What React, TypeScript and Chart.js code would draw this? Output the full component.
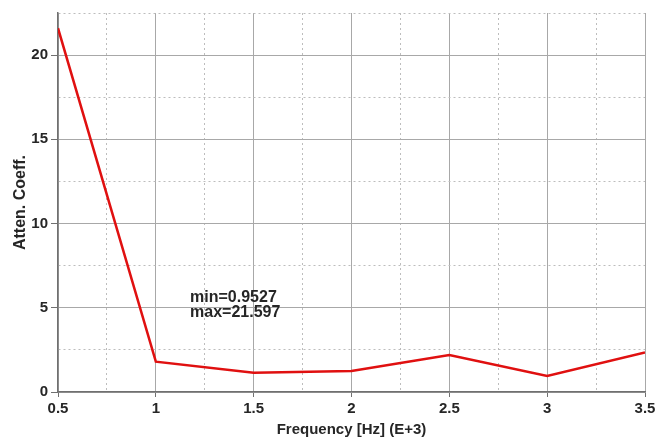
import React, { useEffect, useRef } from "react";
import { Chart, registerables } from "chart.js";

Chart.register(...registerables);

const frequencies = [0.5, 1, 1.5, 2, 2.5, 3, 3.5];
const attenCoeff = [21.597, 1.8, 1.15, 1.25, 2.2, 0.9527, 2.35];
const annotationLines = ["min=0.9527", "max=21.597"];
const xTickStep = 0.25;
const yTickStep = 2.5;

const FONT = "'Liberation Sans', Arial, sans-serif";

const annotationPlugin = {
  id: "minmaxText",
  afterDatasetsDraw(chart: any) {
    const { ctx, scales } = chart;
    const x = scales.x.getPixelForValue(1.175);
    const y = scales.y.getPixelForValue(5.6);
    ctx.save();
    ctx.font = `bold 16px ${FONT}`;
    ctx.fillStyle = "#262626";
    ctx.textAlign = "left";
    ctx.textBaseline = "middle";
    annotationLines.forEach((t, i) => ctx.fillText(t, x, y + i * 14.5));
    ctx.restore();
  },
};

const isMajor = (v: number, step: number) =>
  Math.abs(v / step - Math.round(v / step)) < 1e-6;

export default function App() {
  const ref = useRef<HTMLCanvasElement>(null);
  useEffect(() => {
    if (!ref.current) return;
    const chart = new Chart(ref.current, {
      type: "line",
      data: {
        datasets: [
          {
            data: frequencies.map((f, i) => ({ x: f, y: attenCoeff[i] })),
            borderColor: "#e01010",
            borderWidth: 2.5,
            pointRadius: 0,
            tension: 0,
          },
        ],
      },
      plugins: [annotationPlugin],
      options: {
        animation: false,
        responsive: false,
        layout: { padding: { top: 13, right: 11, left: 0, bottom: 0 } },
        plugins: { legend: { display: false }, tooltip: { enabled: false } },
        scales: {
          x: {
            type: "linear",
            min: 0.5,
            max: 3.5,
            afterFit: (s: any) => {
              s.height = 47;
              s.paddingRight = 0;
              s.paddingLeft = 0;
            },
            ticks: {
              stepSize: xTickStep,
              autoSkip: false,
              maxRotation: 0,
              padding: 3,
              color: "#262626",
              font: { family: FONT, size: 15, weight: "bold" },
              callback: (v: any) => (isMajor(Number(v), 0.5) ? String(v) : ""),
            },
            grid: {
              color: (c: any) =>
                isMajor(c.tick?.value ?? 0, 0.5) ? "#a8a8a8" : "#bdbdbd",
              lineWidth: 1,
              tickLength: 5,
              tickColor: (c: any) =>
                isMajor(c.tick?.value ?? 0, 0.5) ? "#707070" : "rgba(0,0,0,0)",
            },
            border: {
              display: true,
              color: "#707070",
              width: 1.5,
              dash: (c: any) =>
                isMajor(c.tick?.value ?? 0, 0.5) ? [] : [2, 3],
            },
            title: {
              display: true,
              text: "Frequency [Hz] (E+3)",
              color: "#262626",
              font: { family: FONT, size: 15, weight: "bold" },
              padding: { top: 0, bottom: 0 },
            },
          },
          y: {
            type: "linear",
            min: 0,
            max: 22.5,
            afterFit: (s: any) => {
              s.width = 58;
              s.paddingTop = 0;
            },
            ticks: {
              stepSize: yTickStep,
              autoSkip: false,
              padding: 3,
              color: "#262626",
              font: { family: FONT, size: 15, weight: "bold" },
              callback: (v: any) => (isMajor(Number(v), 5) ? String(v) : ""),
            },
            grid: {
              color: (c: any) =>
                isMajor(c.tick?.value ?? 0, 5) ? "#a8a8a8" : "#bdbdbd",
              lineWidth: 1,
              tickLength: 7,
              tickColor: (c: any) =>
                isMajor(c.tick?.value ?? 0, 5) ? "#707070" : "rgba(0,0,0,0)",
            },
            border: {
              display: true,
              color: "#707070",
              width: 1.5,
              dash: (c: any) => (isMajor(c.tick?.value ?? 0, 5) ? [] : [2, 3]),
            },
            title: {
              display: true,
              text: "Atten. Coeff.",
              color: "#262626",
              font: { family: FONT, size: 16, weight: "bold" },
              padding: { top: 11, bottom: 0 },
            },
          },
        },
      },
    } as any);
    return () => chart.destroy();
  }, []);
  return (
    <div style={{ position: "absolute", left: 0, top: 0, width: 656, height: 439, background: "#fff" }}>
      <canvas ref={ref} width={656} height={439} />
    </div>
  );
}
